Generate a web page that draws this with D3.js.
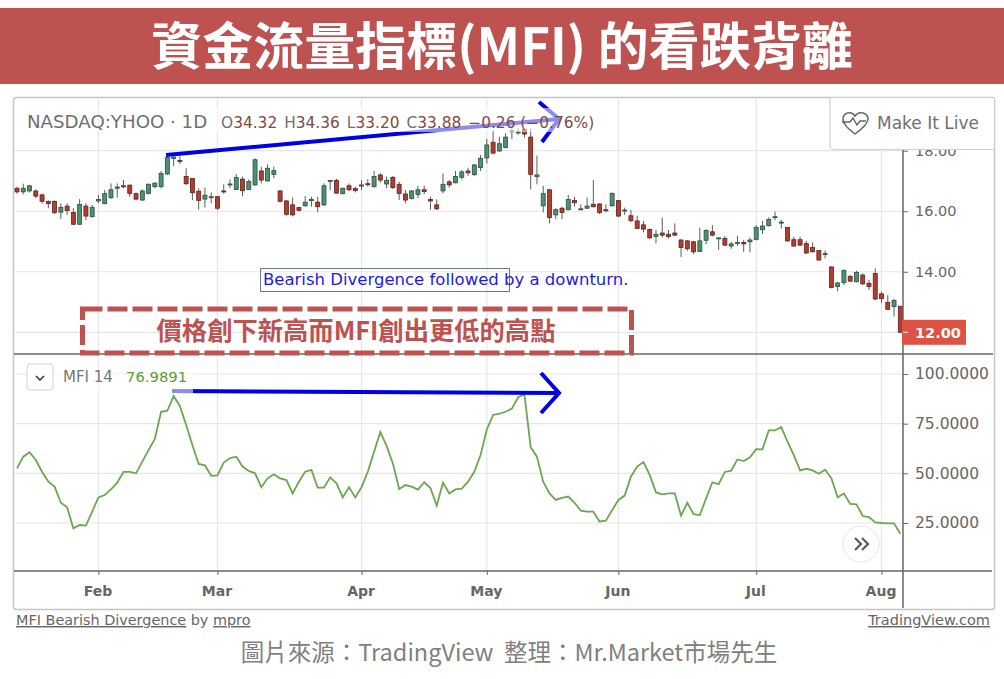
<!DOCTYPE html>
<html>
<head>
<meta charset="utf-8">
<script src="https://cdn.jsdelivr.net/npm/d3@7/dist/d3.min.js"></script>
<style>
html, body { margin: 0; padding: 0; background: #fff; overflow: hidden; }
svg { display: block; }
text { font-family: "DejaVu Sans", sans-serif; }
.cjk { font-family: "Noto Sans CJK TC", sans-serif; }
.axis .domain { display: none; }
.axis text { fill: #666; font-size: 14.5px; }
.axis line { stroke: #666; }
</style>
</head>
<body>
<script>
'use strict';

var opens = [
    16.76, 16.64, 16.67, 16.67, 16.54, 16.32, 16.32, 15.97, 16.17, 15.96,
    15.57, 16.17, 15.82, 16.34, 16.25, 16.45, 16.76, 16.84, 16.86, 16.58,
    16.37, 16.59, 16.81, 16.81, 17.23, 17.74, 17.68, 17.15, 17.08, 16.66,
    16.40, 16.45, 16.48, 16.67, 16.87, 16.72, 17.06, 16.72, 16.87, 17.33,
    17.00, 17.22, 16.67, 16.34, 16.21, 16.12, 16.18, 16.35, 16.30, 16.21,
    17.00, 17.02,
    16.58, 16.84, 16.75, 16.83, 16.91, 16.81, 17.20, 16.90, 17.12, 16.89,
    16.57, 16.42, 16.55, 16.71, 16.39, 16.21, 16.67, 16.97, 16.94, 17.12,
    17.33, 17.21, 17.44, 17.76, 18.28, 17.99, 18.11, 18.63, 18.60, 18.70,
    18.45, 17.14, 16.18, 16.71, 15.88, 16.10, 16.05, 16.36, 16.05, 16.10,
    16.23, 16.24, 16.05, 16.18, 16.35, 16.01, 15.85, 15.68, 15.55, 15.40,
    15.17, 15.28, 15.24,
    15.28, 15.05, 15.02, 14.99, 14.67, 15.04, 15.32, 15.10, 15.10, 14.85,
    14.94, 14.97, 14.99, 15.07, 15.39, 15.52, 15.79, 15.61, 15.46, 15.06,
    15.06, 14.93, 14.80, 14.70, 14.58, 14.16, 13.51, 13.64, 13.85, 13.67,
    13.89, 13.62, 13.94, 13.27, 12.99, 12.85, 12.86
];
var highs = [
    16.81, 16.91, 16.87, 16.72, 16.58, 16.36, 16.36, 16.26, 16.26, 16.10,
    16.40, 16.26, 16.21, 16.54, 16.70, 16.92, 16.92, 17.03, 16.89, 16.62,
    16.72, 16.92, 16.95, 17.33, 17.88, 17.86, 17.82, 17.42, 17.09, 16.76,
    16.78, 16.62, 16.50, 16.89, 17.05, 17.23, 17.14, 17.05, 17.75, 17.47,
    17.55, 17.48, 16.70, 16.37, 16.45, 16.14, 16.50, 16.48, 16.48, 16.92,
    17.03, 17.07,
    16.78, 16.92, 16.81, 17.03, 17.06, 17.33, 17.25, 17.14, 17.16, 16.98,
    16.70, 16.70, 16.84, 16.84, 16.48, 16.39, 17.25, 17.03, 17.33, 17.36,
    17.44, 17.55, 17.86, 18.39, 18.68, 18.46, 18.57, 18.74, 18.74, 18.74,
    18.74, 17.84, 16.84, 16.71, 16.10, 16.15, 16.54, 16.48, 16.23, 16.45,
    17.03, 16.26, 16.23, 16.62, 16.37, 16.12, 16.04, 15.85, 15.68, 15.43,
    15.38, 15.79, 15.38,
    15.60, 15.07, 15.05, 15.02, 15.46, 15.40, 15.54, 15.12, 15.18, 14.99,
    15.19, 15.05, 15.13, 15.54, 15.68, 15.80, 15.99, 15.72, 15.48, 15.16,
    15.16, 15.02, 14.97, 14.72, 14.70, 14.17, 13.67, 14.08, 13.89, 14.03,
    13.95, 13.73, 14.11, 13.34, 13.23, 13.10, 12.86
];
var lows = [
    16.58, 16.56, 16.62, 16.43, 16.25, 16.10, 15.90, 15.74, 15.88, 15.55,
    15.55, 15.71, 15.79, 16.26, 16.23, 16.40, 16.45, 16.76, 16.48, 16.36,
    16.34, 16.56, 16.76, 16.76, 17.20, 17.49, 17.56, 16.87, 16.37, 16.05,
    16.12, 16.26, 16.04, 16.58, 16.76, 16.70, 16.50, 16.70, 16.84, 16.92,
    16.98, 17.09, 16.29, 15.85, 15.83, 15.99, 16.15, 16.15, 15.96, 16.17,
    16.70, 16.58,
    16.56, 16.67, 16.62, 16.70, 16.81, 16.78, 16.95, 16.76, 16.73, 16.37,
    16.26, 16.39, 16.43, 16.56, 16.05, 16.04, 16.59, 16.78, 16.92, 17.05,
    17.17, 17.17, 17.33, 17.58, 17.88, 17.97, 18.08, 18.38, 18.52, 18.43,
    16.72, 16.89, 15.96, 15.60, 15.74, 15.74, 16.03, 16.15, 16.03, 16.07,
    16.12, 15.90, 15.96, 16.15, 15.80, 15.88, 15.63, 15.41, 15.30, 15.08,
    14.94, 15.13, 15.10,
    15.19, 14.49, 14.69, 14.58, 14.65, 14.91, 15.17, 14.72, 14.86, 14.76,
    14.86, 14.66, 14.64, 15.04, 15.25, 15.50, 15.70, 15.43, 14.99, 14.83,
    14.86, 14.59, 14.64, 14.36, 14.44, 13.45, 13.36, 13.56, 13.67, 13.65,
    13.56, 13.40, 13.07, 12.96, 12.74, 12.52, 12.00
];
var closes = [
    16.64, 16.76, 16.84, 16.50, 16.33, 16.25, 15.96, 16.13, 16.02, 15.57,
    16.22, 15.84, 16.13, 16.39, 16.58, 16.71, 16.80, 16.81, 16.59, 16.40,
    16.67, 16.89, 16.93, 17.25, 17.78, 17.79, 17.65, 16.91, 16.61, 16.36,
    16.53, 16.48, 16.10, 16.65, 16.90, 17.11, 16.68, 16.98, 17.70, 17.03,
    17.42, 17.34, 16.33, 15.90, 15.88, 16.03, 16.30, 16.39, 16.15, 16.84,
    17.02, 16.60,
    16.76, 16.71, 16.68, 16.87, 16.88, 17.15, 17.03, 17.02, 16.78, 16.59,
    16.37, 16.67, 16.71, 16.65, 16.34, 16.08, 16.89, 16.87, 17.15, 17.30,
    17.27, 17.53, 17.75, 18.19, 17.92, 18.23, 18.45, 18.66, 18.62, 18.55,
    17.22, 17.20, 16.58, 15.79, 16.05, 15.96, 16.39, 16.28, 16.08, 16.17,
    16.15, 15.96, 16.02, 16.59, 15.84, 16.04, 15.69, 15.43, 15.41, 15.12,
    15.24, 15.21, 15.16,
    15.21, 14.80, 14.76, 14.66, 15.02, 15.37, 15.21, 15.12, 14.88, 14.92,
    14.97, 14.92, 15.05, 15.46, 15.51, 15.73, 15.82, 15.64, 15.02, 14.85,
    14.88, 14.62, 14.66, 14.39, 14.60, 13.48, 13.63, 14.04, 13.69, 13.98,
    13.60, 13.51, 13.10, 13.11, 12.76, 13.05, 12.00
];
var mfiValues = [
    52.5, 58.4, 60.6, 56.7, 50.8, 45.8, 43.3, 35.2, 32.9, 22.3,
    24.0, 23.7, 30.7, 37.9, 39.1, 41.9, 45.3, 50.7, 50.7, 50.0,
    55.9, 61.7, 67.3, 81.0, 81.5, 88.9, 83.9, 74.3, 64.3, 54.7,
    54.0, 48.8, 49.0, 55.4, 57.7, 58.4, 53.4, 51.2, 50.0, 43.0,
    47.5, 49.5, 47.5, 46.6, 39.9, 45.8, 50.8, 51.7, 42.8, 42.8,
    48.0, 45.0,
    37.9, 43.0, 37.9, 43.0, 50.8, 60.9, 70.8, 63.8, 55.0, 42.1,
    44.1, 43.3, 41.8, 45.5, 42.6, 33.7, 45.3, 39.9, 41.9, 42.3,
    45.8, 50.8, 59.2, 72.1, 79.4, 80.0, 81.0, 82.6, 88.3, 89.8,
    63.1, 58.4, 45.8, 39.9, 36.6, 37.6, 38.3, 35.2, 31.2, 30.7,
    30.7, 25.8, 26.2, 31.5, 36.6, 38.8, 48.3, 53.4, 55.7, 49.2,
    40.4, 39.4, 39.9,
    39.9, 28.7, 35.2, 29.4, 29.0, 37.4, 45.5, 44.5, 50.7, 51.3,
    57.0, 56.2, 58.1, 62.2, 62.1, 71.6, 71.6, 73.3, 65.9, 59.2,
    51.5, 52.3, 51.5, 49.8, 51.8, 47.5, 37.9, 39.8, 34.6, 34.4,
    28.5, 28.0, 25.3, 25.0, 24.8, 24.8, 19.6
];
var priceTicks = [12, 14, 16, 18];
var mfiTicks = [25, 50, 75, 100];
var monthLabels = ['Feb', 'Mar', 'Apr', 'May', 'Jun', 'Jul', 'Aug'];
var monthCandles = [13, 32, 55, 75, 96, 118, 138];
var legendValues = ['34.32', '34.36', '33.20', '33.88'];
var lastPrice = 12;
var mfiLegendValue = '76.9891';
var titleText = '資金流量指標(MFI) 的看跌背離';
var calloutText = '價格創下新高而MFI創出更低的高點';
var noteText = 'Bearish Divergence followed by a downturn.';
var sourceText = '圖片來源\uFF1ATradingView  整理\uFF1AMr.Market市場先生';

var RED = '#bd5250';
var BLUE = '#0000e6';
var GRID = '#e6e6e6';
var AXIS = '#666';

var svg = d3.select('body').append('svg').attr('width', 1004).attr('height', 679);

var x = d3.scaleLinear().domain([0, opens.length - 1]).range([17, 900.3]);
var yPrice = d3.scaleLinear().domain([12, 18]).range([332.3, 150.7]);
var yMfi = d3.scaleLinear().domain([25, 100]).range([523, 374]);

// title bar
svg.append('rect').attr('x', 0).attr('y', 8).attr('width', 1004).attr('height', 76).attr('fill', RED);
svg.append('text').attr('class', 'cjk').attr('x', 502).attr('y', 65)
    .attr('text-anchor', 'middle').attr('fill', '#fff')
    .style('font-size', '51px').style('font-weight', 700)
    .text(titleText);

// chart frame
svg.append('rect').attr('x', 13.5).attr('y', 97.5).attr('width', 981).attr('height', 512).attr('rx', 3)
    .attr('fill', '#fff').attr('stroke', '#c4c4c4').attr('stroke-width', 1.5);

// grid
var grid = svg.append('g').attr('stroke', GRID).attr('stroke-width', 1.2);
grid.selectAll('.vgrid').data(monthCandles).enter().append('line')
    .attr('x1', function(d) { return x(d); }).attr('x2', function(d) { return x(d); })
    .attr('y1', 99).attr('y2', 571);
grid.selectAll('.pgrid').data(priceTicks).enter().append('line')
    .attr('x1', 15).attr('x2', 903)
    .attr('y1', function(d) { return yPrice(d); }).attr('y2', function(d) { return yPrice(d); });
grid.selectAll('.mgrid').data(mfiTicks).enter().append('line')
    .attr('x1', 15).attr('x2', 903)
    .attr('y1', function(d) { return yMfi(d); }).attr('y2', function(d) { return yMfi(d); });

// candles
var candles = svg.append('g').selectAll('g').data(d3.range(opens.length)).enter().append('g');
candles.append('line')
    .attr('x1', function(i) { return x(i); }).attr('x2', function(i) { return x(i); })
    .attr('y1', function(i) { return yPrice(highs[i]); })
    .attr('y2', function(i) { return yPrice(lows[i]); })
    .attr('stroke', '#5c5c5c').attr('stroke-width', 1);
candles.append('rect')
    .attr('x', function(i) { return x(i) - 2; })
    .attr('width', 4)
    .attr('y', function(i) { return yPrice(Math.max(opens[i], closes[i])); })
    .attr('height', function(i) { return Math.max(1, Math.abs(yPrice(opens[i]) - yPrice(closes[i]))); })
    .attr('fill', function(i) { return closes[i] >= opens[i] ? '#4a9270' : '#b13c30'; })
    .attr('stroke', function(i) { return closes[i] >= opens[i] ? '#2c4f3e' : '#5e231c'; })
    .attr('stroke-width', 0.8);

// MFI line
var mfiLine = d3.line()
    .x(function(d, i) { return x(i); })
    .y(function(d) { return yMfi(d); });
svg.append('path').datum(mfiValues).attr('d', mfiLine)
    .attr('fill', 'none').attr('stroke', '#6aa84f').attr('stroke-width', 1.8);

function drawArrow(x1, y1, x2, y2, ax1, ay1, ax2, ay2, width) {
    var g = svg.append('g').attr('fill', 'none').attr('stroke', BLUE).attr('stroke-width', width);
    g.append('line').attr('x1', x1).attr('y1', y1).attr('x2', x2).attr('y2', y2);
    g.append('path').attr('d', 'M' + ax1 + ',' + ay1 + 'L' + x2 + ',' + y2 + 'L' + ax2 + ',' + ay2);
}
drawArrow(166, 155, 559, 119, 539, 102, 542, 142, 4);
drawArrow(172, 391, 559, 393, 541, 373, 541, 413, 4);

// legend washes sit above the drawings
svg.append('rect').attr('x', 20).attr('y', 108).attr('width', 575).attr('height', 24)
    .attr('fill', '#fff').attr('opacity', 0.55);
svg.append('rect').attr('x', 26).attr('y', 366).attr('width', 167).attr('height', 27)
    .attr('fill', '#fff').attr('opacity', 0.55);

// pane separators and axes
svg.append('line').attr('x1', 14).attr('x2', 993).attr('y1', 354).attr('y2', 354)
    .attr('stroke', AXIS).attr('stroke-width', 1.5);
svg.append('line').attr('x1', 14).attr('x2', 992).attr('y1', 571).attr('y2', 571)
    .attr('stroke', AXIS).attr('stroke-width', 1.5);
svg.append('line').attr('x1', 903).attr('x2', 903).attr('y1', 150).attr('y2', 608)
    .attr('stroke', AXIS).attr('stroke-width', 1.5);

svg.append('g').attr('class', 'axis').attr('transform', 'translate(903,0)')
    .call(d3.axisRight(yPrice).tickValues(priceTicks).tickSize(5).tickPadding(7)
        .tickFormat(function(d) { return d === lastPrice ? '' : d3.format('.2f')(d); }));
var mfiAxis = svg.append('g').attr('class', 'axis').attr('transform', 'translate(903,0)')
    .call(d3.axisRight(yMfi).tickValues(mfiTicks).tickSize(5).tickPadding(7)
        .tickFormat(d3.format('.4f')));
mfiAxis.selectAll('text').style('font-size', '15.5px');
var monthAxis = svg.append('g').attr('class', 'axis').attr('transform', 'translate(-1,571)')
    .call(d3.axisBottom(x).tickValues(monthCandles).tickSize(4).tickPadding(11)
        .tickFormat(function(d, i) { return monthLabels[i]; }));
monthAxis.selectAll('text').style('font-size', '14px').style('font-weight', 600).attr('fill', '#5a5a5a');
monthAxis.selectAll('line').attr('transform', 'translate(1,0)');

// last price tag
svg.append('rect').attr('x', 902).attr('y', yPrice(lastPrice) - 12.5).attr('width', 64).attr('height', 25)
    .attr('fill', '#dc5344');
svg.append('line').attr('x1', 903).attr('x2', 908).attr('y1', yPrice(lastPrice)).attr('y2', yPrice(lastPrice))
    .attr('stroke', '#fff');
svg.append('text').attr('x', 915).attr('y', yPrice(lastPrice) + 5.5)
    .attr('fill', '#fff').style('font-size', '14.5px').style('font-weight', 700)
    .text(d3.format('.2f')(lastPrice));

// main legend
var legendTitle = svg.append('text').attr('x', 27).attr('y', 128).attr('fill', '#6f6f6f').style('font-size', '18.2px');
legendTitle.text('NASDAQ:YHOO · 1D');
var ohlc = svg.append('text').attr('x', 221).attr('y', 128).style('font-size', '15.4px');
['O', 'H', 'L', 'C'].forEach(function(letter, i) {
    ohlc.append('tspan').attr('fill', '#6f6f6f').attr('dx', i ? 7 : 0).text(letter);
    ohlc.append('tspan').attr('fill', '#7d4a44').text(legendValues[i]);
});
ohlc.append('tspan').attr('fill', '#7d4a44').attr('dx', 7).text('−0.26 (−0.76%)');

// make it live box
svg.append('path').attr('d', 'M830,97.5H994.5V149.5H834a4,4 0 0 1 -4,-4Z')
    .attr('fill', '#fff').attr('stroke', '#d0d0d0').attr('stroke-width', 1.2);
svg.append('path')
    .attr('d', 'M855,134C848,129 843,124 843,119C843,113 851,110 855,116C859,110 868,113 868,119C868,124 862,129 855,134ZM842,122H850L853,118L857,125L860,121H866')
    .attr('fill', 'none').attr('stroke', '#666').attr('stroke-width', 1.5);
svg.append('text').attr('x', 877).attr('y', 129).attr('fill', '#6f6f6f').style('font-size', '17px')
    .text('Make It Live');

// MFI legend
svg.append('rect').attr('x', 27).attr('y', 364).attr('width', 26).attr('height', 26).attr('rx', 3)
    .attr('fill', '#fff').attr('stroke', '#d4d4d4');
svg.append('path').attr('d', 'M36,376L40,380L44,376').attr('fill', 'none').attr('stroke', '#333').attr('stroke-width', 1.5);
svg.append('text').attr('x', 63).attr('y', 382).attr('fill', '#777').style('font-size', '15px').text('MFI 14');
svg.append('text').attr('x', 126).attr('y', 382).attr('fill', '#5c9e31').style('font-size', '14.8px').text(mfiLegendValue);

// scroll button
svg.append('circle').attr('cx', 861).attr('cy', 544).attr('r', 18)
    .attr('fill', '#fff').attr('stroke', '#efefef').attr('stroke-width', 1.5);
svg.append('path').attr('d', 'M855,538L861,544L855,550M862,538L868,544L862,550')
    .attr('fill', 'none').attr('stroke', '#5a5a66').attr('stroke-width', 2.2);

// note box
svg.append('rect').attr('x', 260.5).attr('y', 268.5).attr('width', 249).attr('height', 23)
    .attr('fill', 'none').attr('stroke', '#6a7a90');
svg.append('text').attr('x', 263).attr('y', 285).attr('fill', '#1c1ce0').style('font-size', '16.5px').text(noteText);

// callout
svg.append('rect').attr('x', 82.5).attr('y', 309).attr('width', 549).attr('height', 44)
    .attr('fill', 'none').attr('stroke', RED).attr('stroke-width', 5).attr('stroke-dasharray', '20 5');
svg.append('text').attr('class', 'cjk').attr('x', 356).attr('y', 340)
    .attr('text-anchor', 'middle').attr('fill', RED)
    .style('font-size', '25.3px').style('font-weight', 700).text(calloutText);

// footer
svg.append('text').attr('x', 16).attr('y', 625).attr('fill', '#666').style('font-size', '14.4px')
    .html('<tspan text-decoration="underline">MFI Bearish Divergence</tspan> by <tspan text-decoration="underline">mpro</tspan>');
svg.append('text').attr('x', 990).attr('y', 625).attr('text-anchor', 'end').attr('fill', '#666')
    .attr('text-decoration', 'underline').style('font-size', '14.5px').text('TradingView.com');
svg.append('text').attr('class', 'cjk').attr('x', 509).attr('y', 661)
    .attr('text-anchor', 'middle').attr('fill', '#808080').style('font-size', '23.5px')
    .style('white-space', 'pre').text(sourceText);
</script>
</body>
</html>
